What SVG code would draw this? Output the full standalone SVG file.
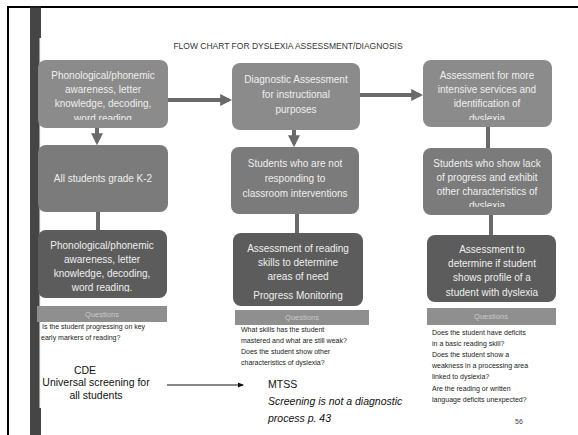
<svg xmlns="http://www.w3.org/2000/svg" width="578" height="435" viewBox="0 0 578 435">
<style>
.box1{fill:#8b8b8b}
.box2{fill:#7b7b7b}
.box3{fill:#5c5c5c}
.qbar{fill:#8f8f8f}
.bt{font-family:"Liberation Sans",Arial,sans-serif;font-size:10px;fill:#eeeeee;text-anchor:middle}
.qt{font-family:"Liberation Sans",Arial,sans-serif;font-size:7.5px;fill:#c9c9c9;text-anchor:middle}
.qq{font-family:"Liberation Sans",Arial,sans-serif;font-size:7px;fill:#222}
.note{font-family:"Liberation Sans",Arial,sans-serif;font-size:10.5px;fill:#111}
.conn{stroke:#6a6a6a;stroke-width:4;fill:none}
</style>
<defs>
<marker id="ah" markerWidth="3" markerHeight="3" refX="2.2" refY="1.5" orient="auto" markerUnits="strokeWidth">
<path d="M0,0 L3,1.5 L0,3 Z" fill="#6a6a6a"/>
</marker>
<marker id="ahs" markerWidth="6" markerHeight="6" refX="5" refY="3" orient="auto" markerUnits="userSpaceOnUse">
<path d="M0,0.5 L6,3 L0,5.5 Z" fill="#111"/>
</marker>
<clipPath id="c11"><rect x="38" y="60" width="130" height="60"/></clipPath>
<clipPath id="c13"><rect x="38" y="230" width="130" height="62"/></clipPath>
<clipPath id="c31"><rect x="423" y="60" width="129" height="60"/></clipPath>
<clipPath id="c32"><rect x="423" y="148" width="129" height="59"/></clipPath>
<clipPath id="c33"><rect x="427" y="235" width="129" height="62"/></clipPath>
</defs>
<rect width="578" height="435" fill="#ffffff"/>
<g id="frame">
<line x1="7" y1="7" x2="578" y2="7" stroke="#000" stroke-width="2"/>
<line x1="8" y1="7" x2="8" y2="435" stroke="#000" stroke-width="2"/>
<rect x="30" y="6" width="11" height="429" fill="#454545"/>
<rect x="30" y="6" width="11" height="2" fill="#1a1a1a"/>
<rect x="39.5" y="38" width="1.5" height="370" fill="#f4f4f4"/>
</g>
<text x="288" y="49" font-family="Liberation Sans,Arial,sans-serif" font-size="8.5" fill="#333" text-anchor="middle">FLOW CHART FOR DYSLEXIA ASSESSMENT/DIAGNOSIS</text>
<g id="connectors">
<line class="conn" x1="168" y1="100" x2="229" y2="100" marker-end="url(#ah)"/>
<line class="conn" x1="360" y1="95" x2="420" y2="95" marker-end="url(#ah)"/>
<line class="conn" x1="97" y1="128" x2="97" y2="142" marker-end="url(#ah)"/>
<line class="conn" x1="98" y1="212" x2="98" y2="230"/>
<line class="conn" x1="294" y1="130" x2="294" y2="144" marker-end="url(#ah)"/>
<line class="conn" x1="297" y1="214" x2="297" y2="233"/>
<line class="conn" x1="488" y1="127" x2="488" y2="148"/>
<line class="conn" x1="491" y1="215" x2="491" y2="235"/>
<line x1="167" y1="385" x2="243" y2="385" stroke="#111" stroke-width="1" marker-end="url(#ahs)"/>
</g>
<g id="n11">
<rect class="box1" x="38" y="60" width="130" height="68" rx="8"/>
<g clip-path="url(#c11)">
<text class="bt" x="103" y="78.5">Phonological/phonemic</text>
<text class="bt" x="103" y="92.5">awareness, letter</text>
<text class="bt" x="103" y="106.5">knowledge, decoding,</text>
<text class="bt" x="103" y="122">word reading</text>
</g>
</g>
<g id="n12">
<rect class="box2" x="38" y="145" width="130" height="67" rx="8"/>
<text class="bt" x="103" y="181.5">All students grade K-2</text>
</g>
<g id="n13">
<rect class="box3" x="38" y="230" width="129" height="68" rx="8"/>
<g clip-path="url(#c13)">
<text class="bt" x="102" y="248.5">Phonological/phonemic</text>
<text class="bt" x="102" y="262.5">awareness, letter</text>
<text class="bt" x="102" y="276.5">knowledge, decoding,</text>
<text class="bt" x="102" y="290.5">word reading.</text>
</g>
</g>
<g id="q1">
<rect class="qbar" x="37" y="306" width="130" height="16"/>
<text class="qt" x="102" y="316.5">Questions</text>
<text class="qq" x="42" y="328.5" font-size="7.3">Is the student progressing on key</text>
<text class="qq" x="41" y="339.5" font-size="7.3">early markers of reading?</text>
</g>
<g id="n21">
<rect class="box1" x="232" y="63" width="128" height="67" rx="8"/>
<text class="bt" x="296" y="82.5">Diagnostic Assessment</text>
<text class="bt" x="296" y="97.5">for instructional</text>
<text class="bt" x="296" y="112.5">purposes</text>
</g>
<g id="n22">
<rect class="box2" x="231" y="147" width="128" height="67" rx="8"/>
<text class="bt" x="295" y="166.5">Students who are not</text>
<text class="bt" x="295" y="181.5">responding to</text>
<text class="bt" x="295" y="196.5">classroom interventions</text>
</g>
<g id="n23">
<rect class="box3" x="233" y="233" width="130" height="73" rx="8"/>
<text class="bt" x="298" y="251.5">Assessment of reading</text>
<text class="bt" x="298" y="265.5">skills to determine</text>
<text class="bt" x="298" y="279.5">areas of need</text>
<text class="bt" x="298" y="298.5">Progress Monitoring</text>
</g>
<g id="q2">
<rect class="qbar" x="235" y="310" width="134" height="15"/>
<text class="qt" x="302" y="320">Questions</text>
<text class="qq" x="241" y="331.5">What skills has the student</text>
<text class="qq" x="241" y="342.5">mastered and what are still weak?</text>
<text class="qq" x="241" y="353.5">Does the student show other</text>
<text class="qq" x="241" y="364.5">characteristics of dyslexia?</text>
</g>
<g id="n31">
<rect class="box1" x="423" y="60" width="129" height="67" rx="8"/>
<g clip-path="url(#c31)">
<text class="bt" x="487" y="78.5">Assessment for more</text>
<text class="bt" x="487" y="92.5">intensive services and</text>
<text class="bt" x="487" y="106.5">identification of</text>
<text class="bt" x="487" y="122">dyslexia</text>
</g>
</g>
<g id="n32">
<rect class="box2" x="423" y="148" width="129" height="67" rx="8"/>
<g clip-path="url(#c32)">
<text class="bt" x="487" y="166.5">Students who show lack</text>
<text class="bt" x="487" y="180.5">of progress and exhibit</text>
<text class="bt" x="487" y="194.5">other characteristics of</text>
<text class="bt" x="487" y="209">dyslexia</text>
</g>
</g>
<g id="n33">
<rect class="box3" x="427" y="235" width="129" height="67" rx="8"/>
<g clip-path="url(#c33)">
<text class="bt" x="492" y="252.5">Assessment to</text>
<text class="bt" x="492" y="266.5">determine if student</text>
<text class="bt" x="492" y="280.5">shows profile of a</text>
<text class="bt" x="492" y="295.5">student with dyslexia</text>
</g>
</g>
<g id="q3">
<rect class="qbar" x="427" y="308" width="129" height="17"/>
<text class="qt" x="491" y="319">Questions</text>
<text class="qq" x="432" y="334.5">Does the student have deficits</text>
<text class="qq" x="432" y="345.7">in a basic reading skill?</text>
<text class="qq" x="432" y="356.9">Does the student show a</text>
<text class="qq" x="432" y="368.1">weakness in a processing area</text>
<text class="qq" x="432" y="379.3">linked to dyslexia?</text>
<text class="qq" x="432" y="390.5">Are the reading or written</text>
<text class="qq" x="432" y="401.7">language deficits unexpected?</text>
</g>
<g id="notes">
<text class="note" x="85" y="374" text-anchor="middle">CDE</text>
<text class="note" x="96" y="386" text-anchor="middle">Universal screening for</text>
<text class="note" x="96" y="399" text-anchor="middle">all students</text>
<text class="note" x="268" y="388">MTSS</text>
<text class="note" x="268" y="405" font-style="italic">Screening is not a diagnostic</text>
<text class="note" x="268" y="422" font-style="italic">process p. 43</text>
<text x="519" y="424" font-family="Liberation Sans,Arial,sans-serif" font-size="7" fill="#444" text-anchor="middle">56</text>
</g>
</svg>
